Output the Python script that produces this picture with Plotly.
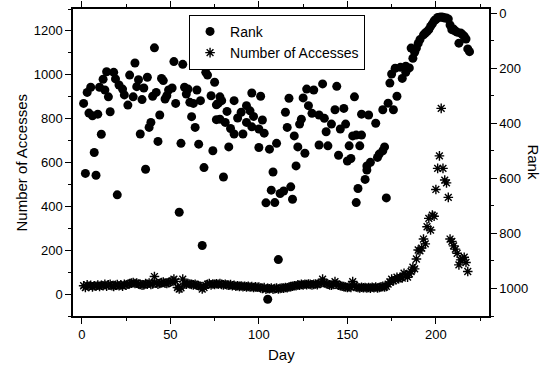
import plotly.graph_objects as go

# ---- Rank series (right axis, reversed) ----
rank_day = [1,2,3,4,5,6,7,8,9,10,11,12,13,14,15,16,18,19,20,21,23,24,26,27,29,30,
            31,32,33,34,35,36,37,38,39,40,41,42,43,44,45,46,47,48,49,51,52,53,55,56,
            57,58,59,60,61,62,63,64,65,66,67,68,69,70,71,73,74,75,76,76,77,78,78,79,
            80,81,82,83,84,86,86,88,90,91,93,93,95,96,96,97,100,100,101,102,103,104,
            105,106,107,108,109,110,111,112,114,115,116,117,118,119,120,121,122,123,
            124,125,126,127,128,130,131,134,134,136,137,138,139,141,143,144,145,146,
            148,149,150,151,152,153,154,155,155,156,157,158,158,160,161,161,162,163,
            166,167,168,170,170,171,172,173,174,175,176,177,178,180,181,183,183,185,
            186,187,188,189,190,191,193,194,195,196,197,198,199,200,201,202,203,204,
            205,206,207,208,209,210,211,212,213,214,215,216,217,218,219]
rank_val = [328,582,288,363,269,373,506,589,367,269,440,240,279,213,304,358,215,239,660,261,276,297,334,225,304,181,
            267,242,439,314,272,567,233,415,397,302,126,288,466,370,237,245,312,300,279,272,176,328,723,473,
            186,269,294,276,324,376,328,415,279,476,318,844,561,215,225,300,500,251,333,387,328,304,385,318,
            595,397,357,486,419,318,439,381,360,439,397,336,355,413,290,375,421,488,302,388,436,689,
            1039,494,643,577,688,473,895,655,646,360,415,309,631,676,446,555,486,403,
            385,308,509,276,336,364,279,370,479,257,382,431,482,403,351,266,516,421,
            346,403,537,482,528,446,304,443,688,637,482,443,367,604,570,555,370,542,
            400,524,512,500,351,486,671,327,254,221,351,200,302,197,237,193,215,199,
            127,164,142,127,110,96,79,72,67,60,48,39,28,23,16,15,14,15,
            18,18,21,43,60,58,65,69,109,72,78,84,94,130,140]

# ---- Number of Accesses series (left axis) ----
acc_day = list(range(1, 219))
acc_val = [38,30,42,35,40,33,38,36,41,35,
           40,38,44,36,42,45,38,35,40,43,
           38,42,36,44,40,45,48,50,52,48,
           50,46,44,40,42,48,45,50,44,46,
           80,50,45,48,52,55,50,48,52,55,
           60,68,58,30,23,28,68,50,45,48,
           46,44,42,45,40,38,35,23,30,40,
           45,48,42,46,44,47,45,48,44,42,
           45,42,40,43,38,40,36,38,35,37,
           34,36,33,35,32,34,30,33,31,32,
           28,26,30,22,26,24,28,22,25,27,
           23,26,28,27,30,29,32,34,36,38,
           38,42,40,44,42,45,43,46,44,42,
           44,46,43,48,50,68,52,48,45,42,
           40,44,57,46,40,38,36,34,32,30,
           33,30,57,40,32,30,28,31,29,30,
           28,30,27,31,29,32,28,30,33,35,
           32,35,45,55,68,60,65,77,70,75,
           73,95,88,77,92,103,123,115,160,201,
           197,210,251,229,307,345,292,360,355,477,
           573,630,847,573,520,507,441,251,240,220,
           205,186,133,156,160,168,144,103]

FONT = "Liberation Sans, Arial, sans-serif"

fig = go.Figure()
fig.add_trace(go.Scatter(
    x=rank_day, y=rank_val, mode="markers", name="Rank", yaxis="y2",
    marker=dict(symbol="circle", size=9, color="black", line=dict(width=0))))
fig.add_trace(go.Scatter(
    x=acc_day, y=acc_val, mode="markers", name="Number of Accesses", yaxis="y",
    marker=dict(symbol="asterisk-open", size=8, color="black",
                line=dict(width=1.4, color="black"))))

axis_common = dict(showgrid=False, zeroline=False, showline=True, linecolor="black",
                   linewidth=1.5, ticks="outside", ticklen=6, tickwidth=1.3,
                   automargin=False,
                   tickcolor="black", tickfont=dict(family=FONT, size=13, color="black"))

fig.update_layout(
    width=548, height=369,
    margin=dict(l=73, r=59, t=9, b=53),
    paper_bgcolor="white", plot_bgcolor="white",
    font=dict(family=FONT, color="black"),
    xaxis=dict(range=[-5, 230], dtick=50, tick0=0, mirror="ticks",
               minor=dict(dtick=25, tick0=0, ticks="outside", ticklen=3, tickcolor="black"),
               **axis_common),
    yaxis=dict(range=[-100, 1300], dtick=200, tick0=0,
               minor=dict(dtick=100, tick0=0, ticks="outside", ticklen=3, tickcolor="black"),
               **axis_common),
    yaxis2=dict(range=[1100, -15], dtick=200, tick0=0, overlaying="y", side="right",
                minor=dict(dtick=100, tick0=0, ticks="outside", ticklen=3, tickcolor="black"),
                **axis_common),
    showlegend=True,
    legend=dict(x=0.279, y=0.981, xanchor="left", yanchor="top",
                bgcolor="white", bordercolor="black", borderwidth=1,
                font=dict(family=FONT, size=14, color="black"),
                tracegroupgap=0),
    annotations=[
        dict(text="Number of Accesses", xref="paper", yref="paper", x=-0.125, y=0.5,
             textangle=-90, showarrow=False, xanchor="center", yanchor="middle",
             font=dict(family=FONT, size=15, color="black")),
        dict(text="Rank", xref="paper", yref="paper", x=1.106, y=0.5,
             textangle=90, showarrow=False, xanchor="center", yanchor="middle",
             font=dict(family=FONT, size=15, color="black")),
        dict(text="Day", xref="paper", yref="paper", x=0.5, y=-0.127,
             showarrow=False, xanchor="center", yanchor="middle",
             font=dict(family=FONT, size=15, color="black")),
    ],
)

fig.write_html("out.html")
